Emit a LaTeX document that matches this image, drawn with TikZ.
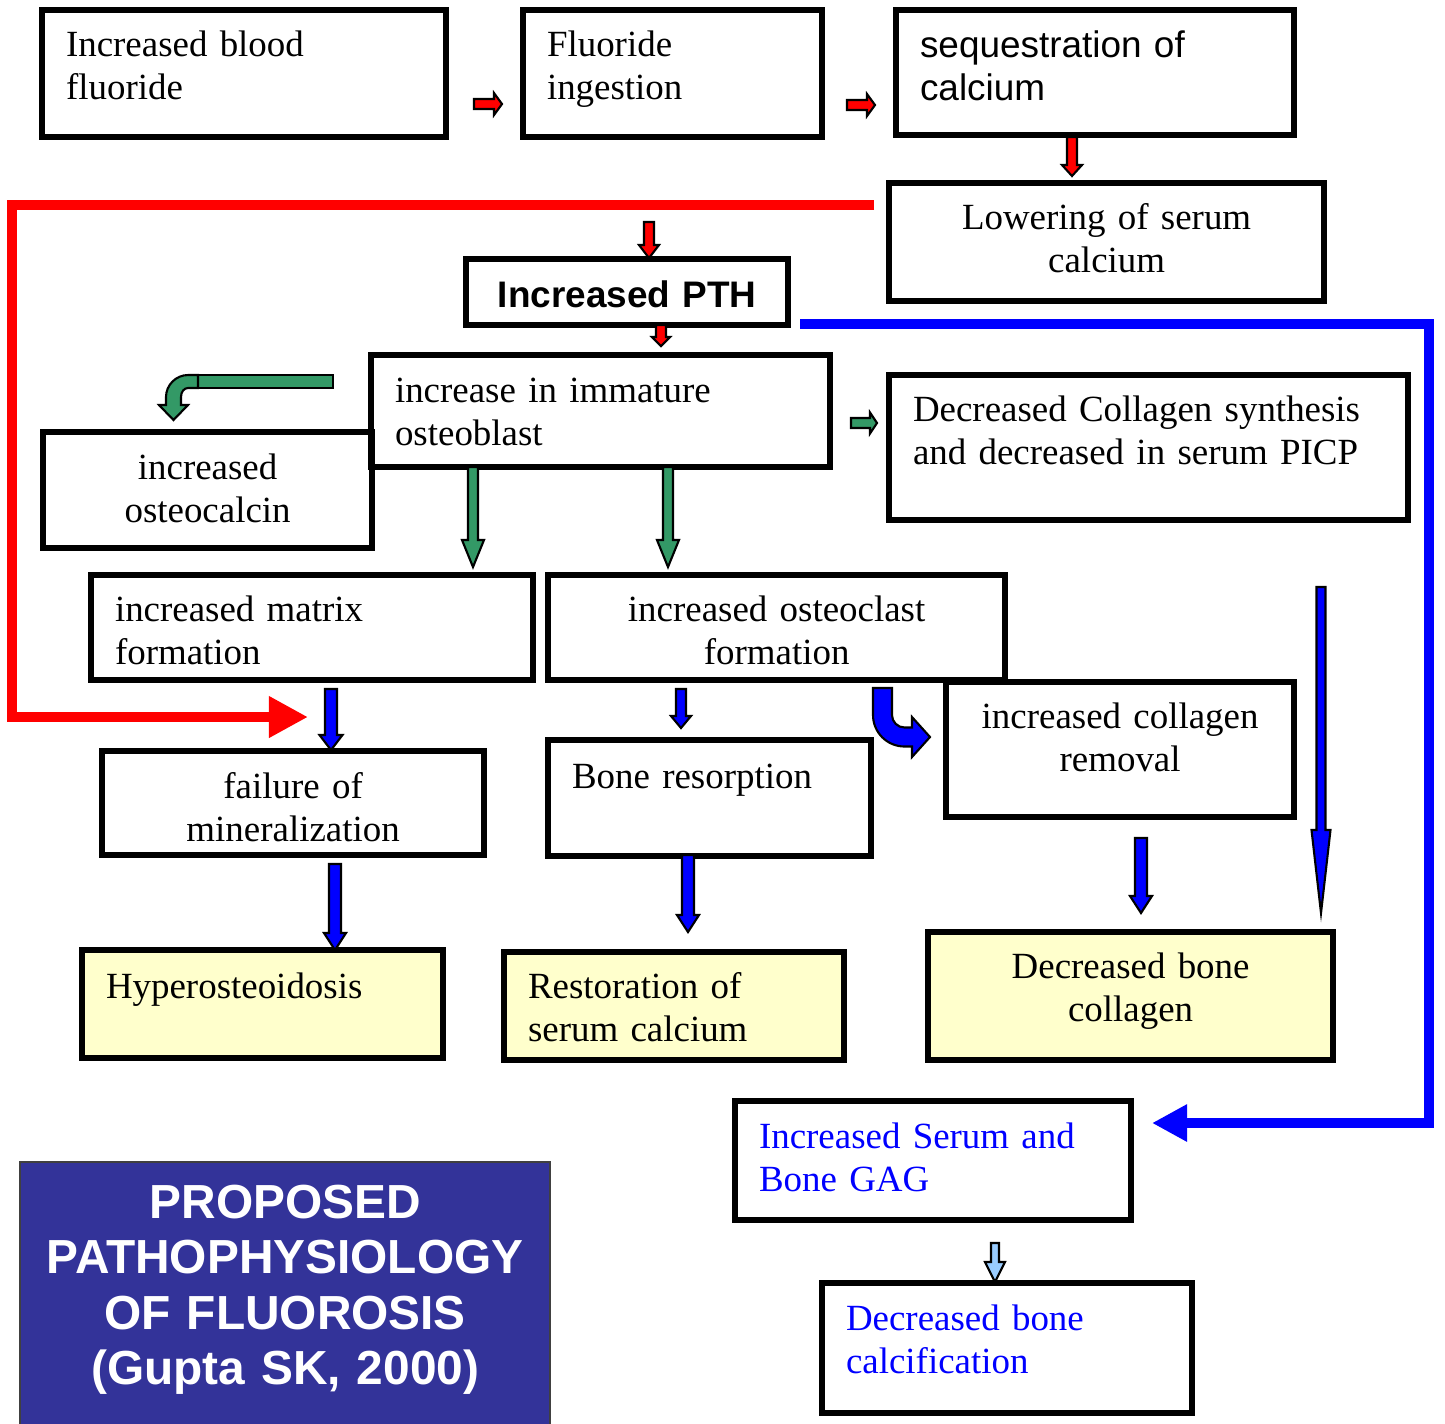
\documentclass[tikz,border=0pt]{standalone}
\usepackage{fontspec}
\setmainfont{Liberation Serif}
\setsansfont{Liberation Sans}
\usetikzlibrary{arrows.meta}

\definecolor{noteyellow}{RGB}{255,255,204}
\definecolor{arrowgreen}{RGB}{51,153,102}
\definecolor{titleblue}{RGB}{51,51,153}
\definecolor{paleblue}{RGB}{153,204,255}

\tikzset{
	box/.style={draw=black, line width=1.8pt, anchor=north west, outer sep=0pt, inner xsep=0.24cm, inner ysep=0pt, align=left, font=\fontsize{10.5}{12.3}\selectfont},
	result/.style={box, fill=noteyellow},
	sanstext/.style={font=\fontsize{10.5}{12.3}\selectfont\sffamily},
	redarrow/.style={fill=red, draw=black, line width=0.6pt},
	greenarrow/.style={fill=arrowgreen, draw=black, line width=0.6pt},
	bluearrow/.style={fill=blue, draw=black, line width=0.6pt},
	palearrow/.style={fill=paleblue, draw=black, line width=0.6pt}
}

% style, start, angle, length, shaft half width, head half width, head length
\newcommand{\blockarrow}[7]{%
	\begin{scope}[shift={#2},rotate=#3]
		\filldraw[#1] (0,-#5) -- ({#4-#7},-#5) -- ({#4-#7},-#6) -- (#4,0) -- ({#4-#7},#6) -- ({#4-#7},#5) -- (0,#5) -- cycle;
	\end{scope}}

\begin{document}
\begin{tikzpicture}[x=0.01cm, y=-0.01cm]
	\useasboundingbox (0,0) rectangle (1445,1423);

	\node[box, text width=3.56cm, text height=0.46cm, text depth=0.81cm] (blood) at (42,10) {Increased blood\\fluoride};
	\node[box, text width=2.51cm, text height=0.46cm, text depth=0.81cm] (ingest) at (523,10) {Fluoride\\ingestion};
	\node[box, sanstext, text width=3.50cm, text height=0.47cm, text depth=0.78cm] (seq) at (896,10) {sequestration of\\calcium};
	\node[box, align=center, text width=3.87cm, text height=0.46cm, text depth=0.72cm] (lower) at (889,183) {Lowering of serum\\calcium};
	\node[box, align=center, font=\fontsize{10.5}{12.3}\selectfont\sffamily\bfseries, text width=2.74cm, text height=0.48cm, text depth=0.18cm] (pth) at (466,259) {Increased PTH};
	\node[box, text width=4.11cm, text height=0.47cm, text depth=0.65cm] (immature) at (371,355) {increase in immature\\osteoblast};
	\node[box, align=center, text width=2.81cm, text height=0.47cm, text depth=0.69cm] (osteocalcin) at (43,432) {increased\\osteocalcin};
	\node[box, text width=4.71cm, text height=0.46cm, text depth=0.99cm] (synth) at (889,375) {Decreased Collagen synthesis\\and decreased in serum PICP};
	\node[box, text width=3.94cm, text height=0.46cm, text depth=0.59cm] (matrix) at (91,575) {increased matrix\\formation};
	\node[box, align=center, text width=4.09cm, text height=0.46cm, text depth=0.59cm] (osteoclast) at (548,575) {increased osteoclast\\formation};
	\node[box, align=center, text width=3.00cm, text height=0.46cm, text depth=0.89cm] (removal) at (946,682) {increased collagen\\removal};
	\node[box, align=center, text width=3.34cm, text height=0.47cm, text depth=0.57cm] (failure) at (102,751) {failure of\\mineralization};
	\node[box, text width=2.75cm, text height=0.48cm, text depth=0.68cm] (resorption) at (548,740) {Bone resorption};
	\node[result, text width=3.13cm, text height=0.48cm, text depth=0.60cm] (hyper) at (82,950) {Hyperosteoidosis};
	\node[result, text width=2.92cm, text height=0.46cm, text depth=0.62cm] (restore) at (504,952) {Restoration of\\serum calcium};
	\node[result, align=center, text width=3.57cm, text height=0.46cm, text depth=0.82cm] (bonecoll) at (928,932) {Decreased bone\\collagen};
	\node[box, text=blue, text width=3.48cm, text height=0.47cm, text depth=0.72cm] (gag) at (735,1101) {Increased Serum and\\Bone GAG};
	\node[box, text=blue, text width=3.22cm, text height=0.47cm, text depth=0.83cm] (calcif) at (822,1283) {Decreased bone\\calcification};
	\node[box, fill=titleblue, draw=darkgray, line width=0.5pt, text=white, align=center, font=\fontsize{13.6}{15.8}\selectfont\sffamily\bfseries, inner xsep=0.1cm, text width=5.10cm, text height=0.56cm, text depth=2.44cm] (title) at (20,1162) {PROPOSED\\PATHOPHYSIOLOGY\\OF FLUOROSIS\\(Gupta SK, 2000)};

	\coordinate (redstart) at (874,205);
	\coordinate (redend) at (308,717);
	\coordinate (bluestart) at (800,324);
	\coordinate (blueend) at (1152,1123);
	\draw[red, line width=0.1cm, -{Triangle[length=0.39cm, width=0.39cm]}] (redstart) -- (12,205) -- (12,717) -- (redend);
	\draw[blue, line width=0.1cm, -{Triangle[length=0.35cm, width=0.35cm]}] (bluestart) -- (1429,324) -- (1429,1123) -- (blueend);

	\blockarrow{redarrow}{(474,104)}{0}{28}{5}{11}{8}
	\blockarrow{redarrow}{(847,105)}{0}{28}{5}{11}{8}
	\blockarrow{redarrow}{(1072,137)}{-90}{39}{5}{10}{11}
	\blockarrow{redarrow}{(649,222)}{-90}{36}{5}{10}{13}
	\blockarrow{redarrow}{(661,325)}{-90}{21}{5}{9}{9}

	\filldraw[greenarrow] (198,375) rectangle (333,388);
	\filldraw[greenarrow] (198,375) -- (188,375) .. controls (176,375) and (166,385) .. (166,397) -- (166,405) -- (159,405) -- (173.5,420) -- (188,405) -- (181,405) -- (181,397) .. controls (181,392) and (184,388) .. (188,388) -- (198,388) -- cycle;
	\blockarrow{greenarrow}{(851,423)}{0}{26}{5}{10.5}{7}
	\blockarrow{greenarrow}{(473,467)}{-90}{100}{5}{11}{27}
	\blockarrow{greenarrow}{(668,467)}{-90}{100}{5}{11}{27}

	\blockarrow{bluearrow}{(331,689)}{-90}{61}{6}{11.5}{15}
	\blockarrow{bluearrow}{(681,689)}{-90}{39}{5}{10}{12}
	\blockarrow{bluearrow}{(335,864)}{-90}{86}{6}{11}{17}
	\blockarrow{bluearrow}{(688,855)}{-90}{77}{6}{11}{17}
	\blockarrow{bluearrow}{(1141,838)}{-90}{75}{6}{11}{17}
	\blockarrow{bluearrow}{(1321,587)}{-90}{326}{4.5}{9.5}{83}
	\filldraw[bluearrow] (873,688) -- (873,715) .. controls (873,732.4) and (887.1,746.5) .. (904.5,746.5) -- (912,746.5) -- (912,757) -- (930,737) -- (912,717) -- (912,727.5) -- (904.5,727.5) .. controls (897.6,727.5) and (892,721.9) .. (892,715) -- (892,688) -- cycle;
	\blockarrow{palearrow}{(995,1243)}{-90}{39}{4}{10}{20}

\end{tikzpicture}
\end{document}
